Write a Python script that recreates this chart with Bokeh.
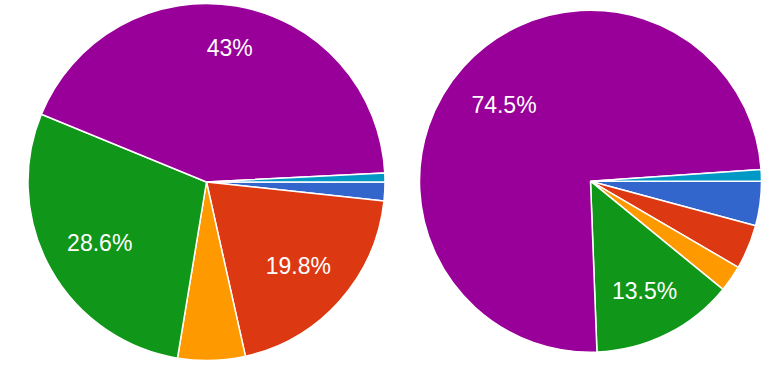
import math
from bokeh.plotting import figure
from bokeh.models import Range1d, ColumnDataSource
from bokeh.core.properties import value
from bokeh.embed import file_html
from bokeh.resources import INLINE

# ---- data ----
categories = ["Blue", "Red", "Orange", "Green", "Purple", "Teal"]
left_values = [1.7, 19.8, 6.1, 28.6, 43.0, 0.8]
right_values = [4.2, 4.2, 2.5, 13.5, 74.5, 1.1]

# ---- style ----
colors = ["#3366cc", "#dc3912", "#ff9900", "#109618", "#990099", "#0099c6"]
LABEL_MIN_SHARE = 10.0
# pie layout in picture pixels: (cx, cy, radius, label radius factors per slice)
pies = [
    (left_values, 206.0, 181.5, 178.5, [0.69, 0.69, 0.69, 0.685, 0.77, 0.69]),
    (right_values, 590.0, 180.7, 171.0, [0.69, 0.69, 0.69, 0.71, 0.68, 0.69]),
]

W, H = 769, 360
p = figure(width=W, height=H, output_backend="svg", toolbar_location=None,
           x_range=Range1d(0, W), y_range=Range1d(-H, 0),
           min_border=0, background_fill_color="white", border_fill_color="white")
p.axis.visible = False
p.grid.visible = False
p.outline_line_color = None


def fmt(v):
    s = f"{v:.1f}"
    if s.endswith(".0"):
        s = s[:-2]
    return s + "%"


for vals, cx, cy, r, lf in pies:
    total = sum(vals)
    starts, ends, lx, ly, lt = [], [], [], [], []
    cum = 0.0
    for i, v in enumerate(vals):
        a0 = -cum / total * 2 * math.pi
        cum += v
        a1 = -cum / total * 2 * math.pi
        starts.append(a0)
        ends.append(a1)
        share = v / total * 100
        if share >= LABEL_MIN_SHARE:
            mid = (a0 + a1) / 2
            lx.append(cx + r * lf[i] * math.cos(mid))
            ly.append(-cy + r * lf[i] * math.sin(mid) - 1.5)
            lt.append(fmt(round(share, 1)))
    src = ColumnDataSource(dict(x=[cx] * len(vals), y=[-cy] * len(vals),
                                start=starts, end=ends, color=colors, cat=categories))
    p.wedge(x="x", y="y", radius=r, radius_units="screen", start_angle="start", end_angle="end",
            direction="clock", fill_color="color", line_color="white", line_width=1.5, source=src)
    p.text(x=lx, y=ly, text=lt, text_align="center", text_baseline="middle",
           text_color="white", text_font=value("Liberation Sans"), text_font_size="23px")

open("out.html", "w").write(file_html(p, INLINE))
